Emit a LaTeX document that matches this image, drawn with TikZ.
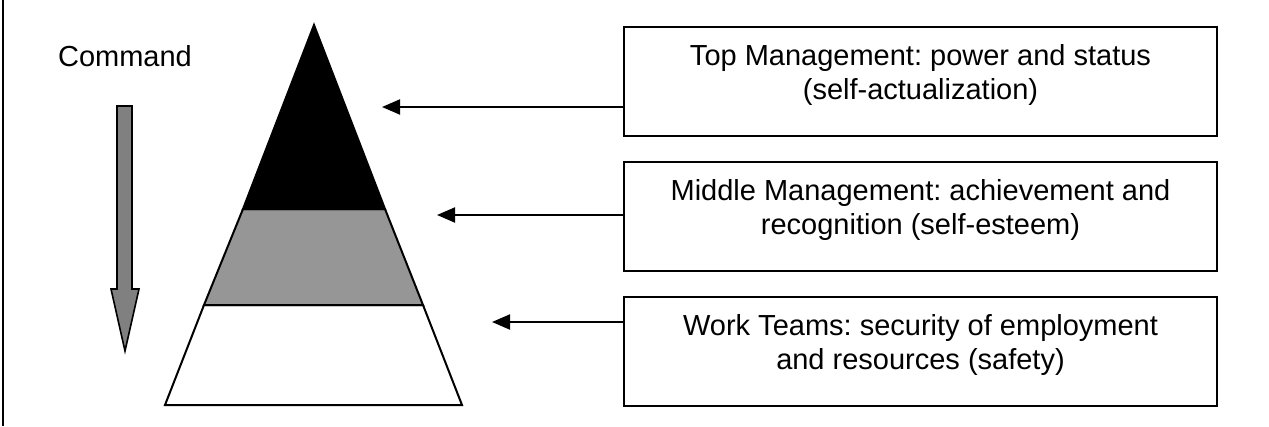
\documentclass[tikz,border=0pt]{standalone}
\usepackage{fontspec}
\setmainfont{Liberation Sans}
\usetikzlibrary{arrows.meta}
\frenchspacing
\definecolor{midgray}{RGB}{150,150,150}
\definecolor{arrgray}{RGB}{128,128,128}
\tikzset{
  infobox/.style={draw=black, line width=2pt, minimum width=593pt, minimum height=109pt, inner sep=0pt},
  infotext/.style={align=center, inner sep=0pt, font=\fontsize{29}{34}\selectfont\frenchspacing},
  pointer/.style={line width=2pt, -{Triangle[length=18pt,width=15pt]}},
  band/.style={draw=black, line width=2pt, line join=miter},
}
\begin{document}
\begin{tikzpicture}[x=1pt,y=-1pt]
\useasboundingbox (0,0) rectangle (1269,426);
% left frame line
\draw[line width=2pt] (3,0) -- (3,426);
% command label
\node[infotext, anchor=base] (cmd) at (125,66) {Command};
% command arrow
\draw[line width=1.6pt, fill=arrgray, line join=miter]
  (117,106) -- (132,106) -- (132,289) -- (139,289) -- (125,351) -- (111,289) -- (117,289) -- cycle;
% pyramid
\coordinate (apex) at (314,25);
\coordinate (l1) at (243,209); \coordinate (r1) at (385,209);
\coordinate (l2) at (204,305); \coordinate (r2) at (423,305);
\coordinate (l3) at (165,405); \coordinate (r3) at (462,405);
\draw[band, fill=white] (l2) -- (r2) -- (r3) -- (l3) -- cycle;
\draw[band, fill=midgray] (l1) -- (r1) -- (r2) -- (l2) -- cycle;
\draw[band, fill=black] (apex) -- (r1) -- (l1) -- cycle;
% boxes
\node[infobox] (top) at (920.5,81.5) {};
\node[infobox] (mid) at (920.5,216.5) {};
\node[infobox] (bot) at (920.5,351.5) {};
\node[infotext, anchor=base] (toptext) at (920.5,99) {Top Management: power and status\\(self-actualization)};
\node[infotext, anchor=base] (midtext) at (920.5,234) {Middle Management: achievement and\\recognition (self-esteem)};
\node[infotext, anchor=base] (bottext) at (920.5,369) {Work Teams: security of employment\\and resources (safety)};
% arrows
\coordinate (ta) at (382,107);
\coordinate (ma) at (437,215);
\coordinate (ba) at (492,322);
\draw[pointer] (ta -| top.west) -- (ta);
\draw[pointer] (ma -| mid.west) -- (ma);
\draw[pointer] (ba -| bot.west) -- (ba);
\end{tikzpicture}
\end{document}
